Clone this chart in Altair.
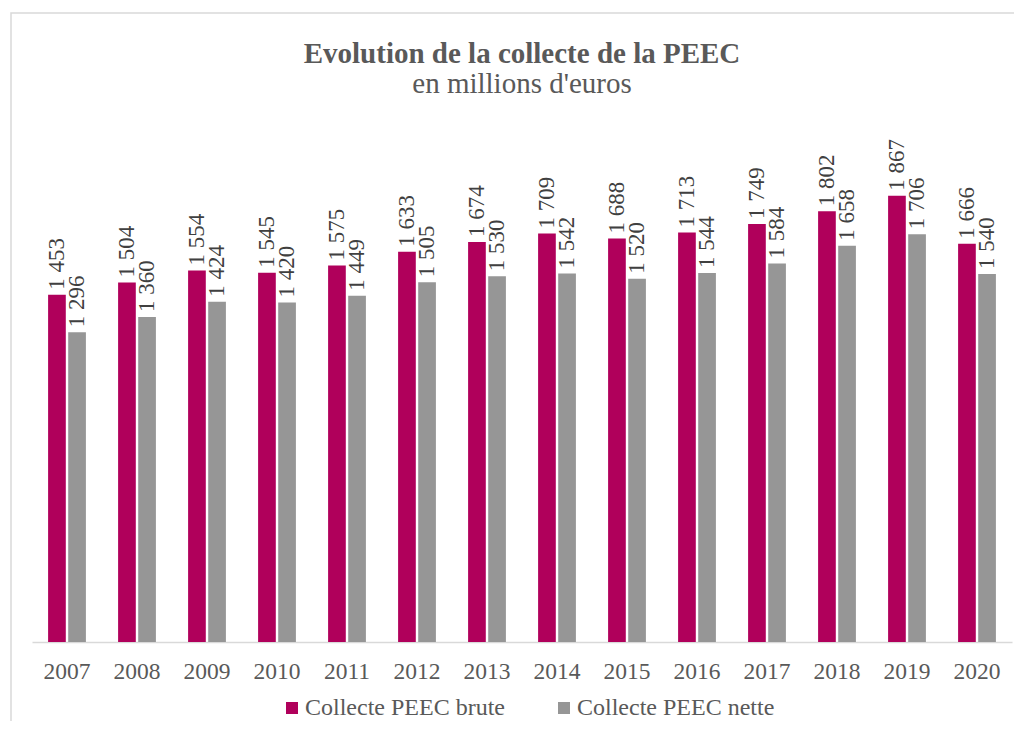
import altair as alt
import pandas as pd

years = ["2007", "2008", "2009", "2010", "2011", "2012", "2013",
         "2014", "2015", "2016", "2017", "2018", "2019", "2020"]
brute = [1453, 1504, 1554, 1545, 1575, 1633, 1674, 1709, 1688, 1713, 1749, 1802, 1867, 1666]
nette = [1296, 1360, 1424, 1420, 1449, 1505, 1530, 1542, 1520, 1544, 1584, 1658, 1706, 1540]
series = ["Collecte PEEC brute", "Collecte PEEC nette"]
colors = ["#B0005B", "#969696"]

rows = []
for y, b, n in zip(years, brute, nette):
    rows.append({"year": y, "series": series[0], "value": b})
    rows.append({"year": y, "series": series[1], "value": n})
df = pd.DataFrame(rows)

FONT = "Liberation Serif, Times New Roman, serif"

base = alt.Chart(df).encode(
    x=alt.X("year:N", sort=years, title=None,
            scale=alt.Scale(paddingInner=0.46, paddingOuter=0.23),
            axis=alt.Axis(labelAngle=0, labelFontSize=23.5, labelFont=FONT,
                          labelColor="#595959", domainColor="#D9D9D9",
                          domainWidth=1.5, ticks=False, labelPadding=17)),
    xOffset=alt.XOffset("series:N", sort=series,
                        scale=alt.Scale(paddingInner=0.12)),
    y=alt.Y("value:Q", scale=alt.Scale(domain=[0, 2000]), axis=None),
)

bars = base.mark_bar().encode(
    color=alt.Color("series:N", sort=series,
                    scale=alt.Scale(domain=series, range=colors),
                    legend=alt.Legend(orient="none", legendX=248, legendY=532,
                                      title=None, direction="horizontal",
                                      labelFont=FONT, labelFontSize=24, labelColor="#595959",
                                      labelLimit=0,
                                      symbolType="square", symbolSize=144,
                                      symbolStrokeWidth=0, columnPadding=47,
                                      labelOffset=1)),
)

labels = base.transform_calculate(
    lab="replace(format(datum.value, ','), ',', ' ')"
).mark_text(angle=270, align="left", baseline="middle", dx=5,
            font=FONT, fontSize=23, color="#404040").encode(
    text="lab:N"
)

frame = alt.Chart(pd.DataFrame({"f": [0]})).mark_rect(
    fill=None, stroke="#D9D9D9", strokeWidth=1.5
).encode(
    x=alt.value(-21), x2=alt.value(1020), y=alt.value(-151), y2=alt.value(600)
)

chart = (frame + bars + labels).properties(
    width=980, height=478,
    title=alt.TitleParams(
        text="Evolution de la collecte de la PEEC",
        subtitle="en millions d'euros",
        font=FONT, fontSize=29, fontWeight="bold", color="#595959",
        subtitleFont=FONT, subtitleFontSize=29, subtitleColor="#595959",
        subtitlePadding=1, anchor="middle", offset=-87,
    ),
    autosize=alt.AutoSizeParams(type="none"),
    padding={"left": 24, "top": 156, "right": 2, "bottom": 79},
).configure(font=FONT).configure_view(stroke=None)

chart.save("out.html", embed_options={"renderer": "svg", "actions": False})
